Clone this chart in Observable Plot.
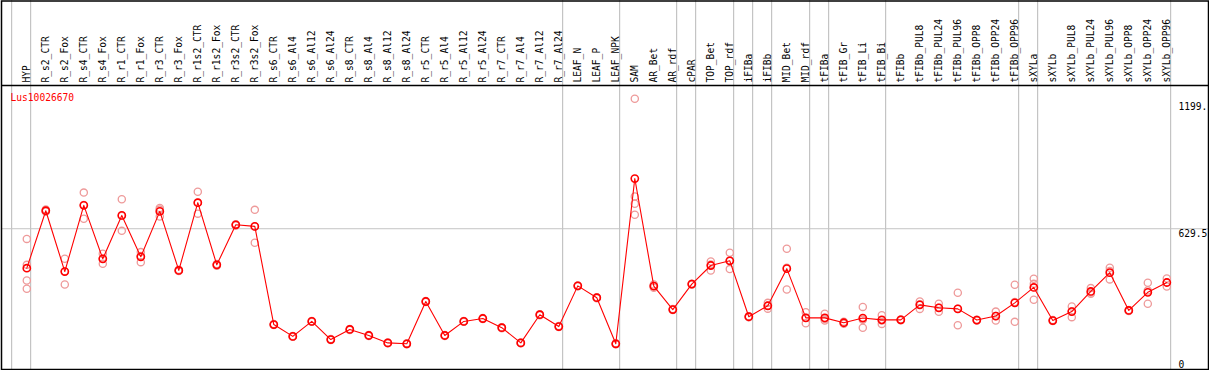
<!DOCTYPE html>
<html>
<head>
<meta charset="utf-8">
<script src="https://cdn.jsdelivr.net/npm/d3@7"></script>
<script src="https://cdn.jsdelivr.net/npm/@observablehq/plot@0.6"></script>
<style>
  html, body { margin: 0; padding: 0; background: #fff; }
</style>
</head>
<body>
<div id="chart"></div>
<script>
const geneId = "Lus10026670";

const categories = [
  "HYP","R_s2_CTR","R_s2_Fox","R_s4_CTR","R_s4_Fox","R_r1_CTR","R_r1_Fox","R_r3_CTR","R_r3_Fox",
  "R_r1s2_CTR","R_r1s2_Fox","R_r3s2_CTR","R_r3s2_Fox","R_s6_CTR","R_s6_Al4","R_s6_Al12","R_s6_Al24",
  "R_s8_CTR","R_s8_Al4","R_s8_Al12","R_s8_Al24","R_r5_CTR","R_r5_Al4","R_r5_Al12","R_r5_Al24",
  "R_r7_CTR","R_r7_Al4","R_r7_Al12","R_r7_Al24","LEAF_N","LEAF_P","LEAF_NPK","SAM","AR_Bet","AR_rdf",
  "cPAR","TOP_Bet","TOP_rdf","iFIBa","iFIBb","MID_Bet","MID_rdf","tFIBa","tFIB_Gr","tFIB_Li","tFIB_Bi",
  "tFIBb","tFIBb_PUL8","tFIBb_PUL24","tFIBb_PUL96","tFIBb_OPP8","tFIBb_OPP24","tFIBb_OPP96",
  "sXYLa","sXYLb","sXYLb_PUL8","sXYLb_PUL24","sXYLb_PUL96","sXYLb_OPP8","sXYLb_OPP24","sXYLb_OPP96"
];

const means = [
  453, 710, 438, 734, 495, 689, 504, 707, 443,
  746, 468, 647, 640, 201, 148, 215, 134,
  179, 152, 119, 115, 304, 152, 215, 228,
  187, 119, 245, 192, 374, 321, 115, 854, 373, 268,
  382, 465, 486, 236, 285, 451, 231, 231, 209, 230, 222,
  222, 289, 276, 271, 221, 239, 298,
  367, 219, 259, 349, 433, 264, 345, 389
];

const replicates = [
  [584, 468, 398, 361], [715, 708, 707], [495, 438, 380], [791, 736, 674], [518, 495, 473],
  [761, 687, 620], [525, 507, 480], [722, 715, 684], [446, 443, 440],
  [795, 746, 697], [472, 468, 464], [650, 647, 644], [714, 640, 567],
  [203, 201, 199], [150, 148, 146], [217, 215, 213], [136, 134, 132],
  [181, 179, 177], [154, 152, 150], [121, 119, 117], [117, 115, 113],
  [306, 304, 302], [154, 152, 150], [217, 215, 213], [230, 228, 226],
  [189, 187, 185], [121, 119, 117], [247, 245, 243], [194, 192, 190],
  [376, 374, 372], [323, 321, 319], [117, 115, 113], [1211, 774, 741, 692],
  [380, 373, 366], [270, 268, 266], [384, 382, 380], [483, 469, 443], [522, 487, 449],
  [238, 236, 234], [298, 285, 272], [540, 455, 358], [256, 231, 207],
  [249, 226, 219], [213, 209, 205], [280, 223, 187], [243, 219, 204],
  [224, 222, 220], [304, 292, 271], [294, 276, 258], [343, 272, 198],
  [223, 221, 219], [259, 239, 219], [379, 302, 213],
  [406, 383, 312], [221, 219, 217], [282, 261, 234], [364, 344, 339],
  [455, 441, 403], [266, 264, 262], [388, 353, 294], [407, 389, 371]
];

// last category of each sample group (a grey separator follows each)
const groupEnds = ["HYP","R_r7_Al24","LEAF_NPK","AR_rdf","cPAR","TOP_rdf","iFIBa","iFIBb",
  "MID_rdf","tFIBa","tFIB_Bi","tFIBb_OPP96","sXYLa","sXYLb_OPP96"];

const yTickValues = [1199, 629.5];
const yTickLabels = ["1199.", "629.5"];
const yZeroLabel = "0";
const midLine = 629.5;

// ---- build tables for the library ----
const meanData = categories.map((c, i) => ({i, cat: c, v: means[i]}));
const repData = categories.flatMap((c, i) => replicates[i].map(v => ({i, cat: c, v})));
const sepData = [-1, ...groupEnds.map(n => categories.indexOf(n))].map(i => ({pos: i + 0.2}));

const W = 1209, H = 370;
const mTop = 85, mBottom = 1, mLeft = 1, mRight = 1;
const step = 19, firstX = 26.3;
const xDomain = [(mLeft - firstX) / step, (W - mRight - firstX) / step];
const yMax = 1270;

const red = "#ff0000";
const pink = "#ee9a9a";
const grey = "#c4c4c4";

const chart = Plot.plot({
  width: W,
  height: H,
  marginTop: mTop,
  marginBottom: mBottom,
  marginLeft: mLeft,
  marginRight: mRight,
  style: {fontFamily: "'DejaVu Sans Mono', monospace", fontSize: "9.6px", background: "#fff", color: "#000"},
  x: {type: "linear", domain: xDomain, axis: null},
  y: {type: "linear", domain: [0, yMax], axis: null},
  marks: [
    Plot.ruleY([midLine], {stroke: grey, strokeWidth: 1}),
    Plot.ruleX(sepData, {x: "pos", stroke: grey, strokeWidth: 1.2, insetTop: -mTop}),
    Plot.frame({stroke: "#000", strokeWidth: 1.5, insetTop: -mTop + 0.5}),
    Plot.ruleY([yMax], {stroke: "#000", strokeWidth: 1.5}),
    Plot.text(meanData, {
      x: "i", text: "cat", frameAnchor: "top", rotate: -90,
      textAnchor: "start", lineAnchor: "middle", dy: -3, dx: 0.5, fill: "#000"
    }),
    Plot.text([geneId], {
      frameAnchor: "top-left", text: d => d, dx: 9, dy: 9,
      textAnchor: "start", lineAnchor: "top", fill: red
    }),
    Plot.text(yTickValues, {
      y: d => d, text: (d, k) => yTickLabels[k], frameAnchor: "right",
      textAnchor: "start", lineAnchor: "top", dx: -30, dy: 1.5, fill: "#000"
    }),
    Plot.text([0], {
      y: d => d, text: () => yZeroLabel, frameAnchor: "right",
      textAnchor: "start", lineAnchor: "bottom", dx: -30, dy: -2, fill: "#000"
    }),
    Plot.dot(repData, {x: "i", y: "v", r: 3.6, stroke: pink, strokeWidth: 1.3, fill: "none"}),
    Plot.line(meanData, {x: "i", y: "v", stroke: red, strokeWidth: 1.1}),
    Plot.dot(meanData, {x: "i", y: "v", r: 3.6, stroke: red, strokeWidth: 1.6, fill: "none"})
  ]
});

document.getElementById("chart").appendChild(chart);
</script>
</body>
</html>
